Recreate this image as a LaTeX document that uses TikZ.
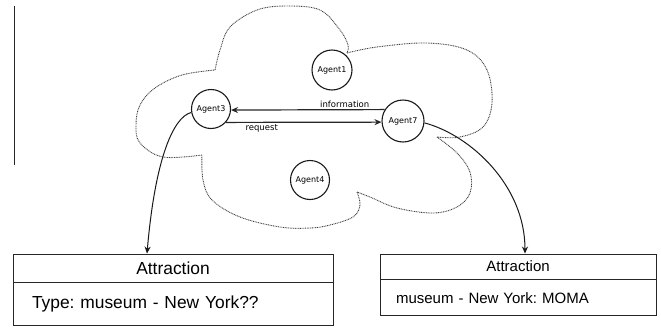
\documentclass[tikz,border=0pt]{standalone}
\usepackage{fontspec}
\setmainfont{Liberation Sans}
\newfontfamily\agentfont{DejaVu Sans}
\usetikzlibrary{arrows.meta}
\frenchspacing
\tikzset{
  agent/.style={circle,draw=black!90,line width=1.1pt,inner sep=0pt,minimum size=#1,font=\agentfont\fontsize{8}{9}\selectfont},
  msg/.style={line width=1.2pt,draw=black!85,-{Stealth[length=7pt,width=6pt]}},
  lbl/.style={font=\agentfont\fontsize{8.5}{10}\selectfont,inner sep=1.5pt},
  link/.style={line width=1pt,draw=black!90,-{Stealth[length=7pt,width=6pt]}},
  cloud/.style={line width=0.9pt,draw=black!75,dash pattern=on 0.9pt off 0.8pt},
  boxpart/.style={rectangle,draw=black!85,line width=0.9pt,inner sep=0pt},
}
\begin{document}
\begin{tikzpicture}[x=1pt,y=-1pt]
\useasboundingbox (0,0) rectangle (661,327);
% left margin line
\draw[line width=0.9pt,black!85] (14,6) -- (14,165);
% cloud
\draw[cloud] plot[smooth,tension=0.6] coordinates {(215,70) (220,50) (230,27) (257,10) (287,6) (320,10) (340,30) (348,45) (347,53)};
\draw[cloud] plot[smooth,tension=0.6] coordinates {(347,53) (377,47) (427,43) (467,50) (487,70) (492,103) (483,127) (460,137) (437,137)};
\draw[cloud] plot[smooth,tension=0.6] coordinates {(437,137) (457,153) (470,172) (470,193) (457,207) (433,213) (397,208) (370,197) (357,192)};
\draw[cloud] plot[smooth,tension=0.6] coordinates {(357,192) (360,205) (353,217) (330,225) (310,228) (280,227) (240,217) (212,200) (203,180) (202,155)};
\draw[cloud] plot[smooth,tension=0.6] coordinates {(202,155) (163,157) (140,143) (136,125) (140,105) (155,88) (182,75) (215,70)};
% agents
\node[agent=40pt] (a1) at (332,70) {Agent1};
\node[agent=39pt] (a3) at (211,109) {Agent3};
\node[agent=42pt] (a7) at (403,121) {Agent7};
\node[agent=39pt] (a4) at (310,180) {Agent4};
% messages
\draw[msg] (a7.148) -- node[lbl,pos=0.26,above] {information} (a3.-3);
\draw[msg] (a3.-42) -- node[lbl,pos=0.23,below] {request} (a7.-177);
% boxes
\node[boxpart,minimum width=320pt,minimum height=28pt,font=\fontsize{17.4}{20}\selectfont] (lbh) at (173,268) {Attraction};
\node[boxpart,anchor=north,minimum width=320pt,minimum height=43pt,text width=282pt,align=left,font=\fontsize{17.4}{20}\selectfont] (lbb) at (lbh.south) {Type: museum - New York??};
\node[boxpart,minimum width=276pt,minimum height=25pt,font=\fontsize{15}{18}\selectfont] (rbh) at (518,266.5) {Attraction};
\node[boxpart,anchor=north,minimum width=276pt,minimum height=36pt,text width=244pt,align=left,font=\fontsize{15}{18}\selectfont] (rbb) at (rbh.south) {museum - New York: MOMA};
% links
\draw[link] (a3.190) .. controls (173,117) and (155,160) .. ([xshift=-26pt]lbh.north);
\draw[link] (a7.-5) .. controls (470,135) and (525,185) .. ([xshift=7pt]rbh.north);
\end{tikzpicture}
\end{document}
